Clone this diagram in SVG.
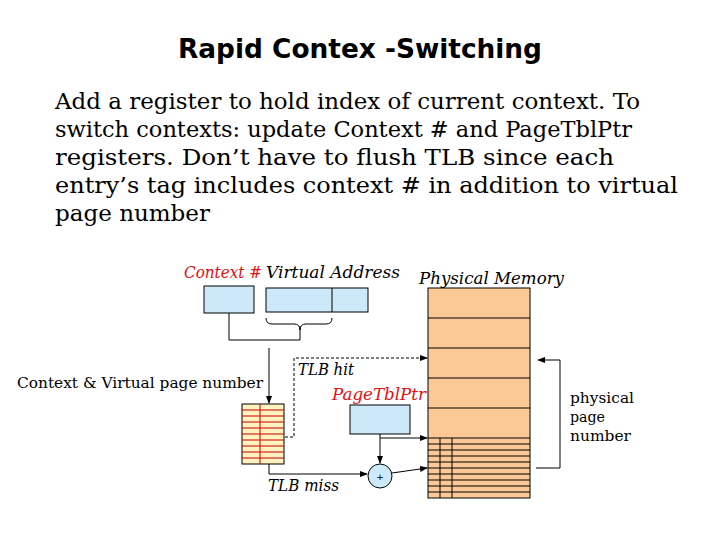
<svg xmlns="http://www.w3.org/2000/svg" width="720" height="540" viewBox="0 0 720 540">
<defs>
<marker id="ah" markerWidth="8" markerHeight="6" refX="7" refY="3" orient="auto" markerUnits="userSpaceOnUse"><path d="M0,0 L8,3 L0,6 z" fill="#000"/></marker>
<style>
.t{font-family:"DejaVu Serif","Liberation Serif",serif;fill:#000}
.l{font-family:"DejaVu Serif","Liberation Serif",serif;font-style:italic;font-size:17px}
.red{fill:#e01010}
.ln{stroke:#000;stroke-width:1;fill:none}
.blue{fill:#cde8f8;stroke:#000;stroke-width:1}
</style>
</defs>
<rect width="720" height="540" fill="#fff"/>
<text x="178" y="58" textLength="364" lengthAdjust="spacingAndGlyphs" font-family="DejaVu Sans,sans-serif" font-weight="bold" font-size="27">Rapid Contex -Switching</text>
<g class="t" font-size="22">
<text x="55" y="109" textLength="585" lengthAdjust="spacingAndGlyphs">Add a register to hold index of current context. To</text>
<text x="55" y="137" textLength="577" lengthAdjust="spacingAndGlyphs">switch contexts: update Context # and PageTblPtr</text>
<text x="55" y="165" textLength="559" lengthAdjust="spacingAndGlyphs">registers.  Don’t have to flush TLB since each</text>
<text x="55" y="193" textLength="623" lengthAdjust="spacingAndGlyphs">entry’s tag includes context # in addition to virtual</text>
<text x="55" y="221" textLength="155" lengthAdjust="spacingAndGlyphs">page number</text>
</g>
<g id="labels">
<text class="l red" x="184" y="278" textLength="78" lengthAdjust="spacingAndGlyphs">Context #</text>
<text class="l" x="266" y="278" textLength="134" lengthAdjust="spacingAndGlyphs">Virtual Address</text>
<text class="l" x="419" y="284" textLength="145" lengthAdjust="spacingAndGlyphs">Physical Memory</text>
<text class="l red" x="332" y="400" textLength="94" lengthAdjust="spacingAndGlyphs">PageTblPtr</text>
<text class="t" x="17" y="388" font-size="14" textLength="246" lengthAdjust="spacingAndGlyphs">Context &amp; Virtual page number</text>
<text class="l" x="298" y="375" font-size="14" textLength="56" lengthAdjust="spacingAndGlyphs">TLB hit</text>
<text class="l" x="268" y="491" font-size="14" textLength="71" lengthAdjust="spacingAndGlyphs">TLB miss</text>
<text class="t" x="570" y="403" font-size="15" textLength="64" lengthAdjust="spacingAndGlyphs">physical</text>
<text class="t" x="570" y="422" font-size="15" textLength="35" lengthAdjust="spacingAndGlyphs">page</text>
<text class="t" x="570" y="441" font-size="15" textLength="61" lengthAdjust="spacingAndGlyphs">number</text>
</g>
<g id="context"><rect class="blue" x="204" y="286" width="50" height="27"/></g>
<g id="va"><rect class="blue" x="266" y="288" width="102" height="24"/><line class="ln" x1="332" y1="288" x2="332" y2="312"/></g>
<g id="pagetblptr"><rect class="blue" x="350" y="405" width="60" height="29"/></g>
<g id="tlb">
<rect x="242" y="404" width="42" height="60" fill="#fff2c0" stroke="#000"/>
<path stroke="#c00000" stroke-width="1" d="M242,410H284M242,416H284M242,422H284M242,428H284M242,434H284M242,440H284M242,446H284M242,452H284M242,458H284M260,404V464"/>
</g>
<g id="pmem">
<rect x="428" y="288" width="102" height="210" fill="#fcc896" stroke="#000"/>
<path class="ln" d="M428,318H530M428,348H530M428,378H530M428,408H530M428,438H530M428,444H530M428,450H530M428,456H530M428,462H530M428,468H530M428,474H530M428,480H530M428,486H530M428,492H530M440,438V498M452,438V498"/>
</g>
<g id="adder"><circle cx="380" cy="476" r="12" fill="#cde8f8" stroke="#000"/><text x="380" y="480" text-anchor="middle" font-family="DejaVu Sans,sans-serif" font-size="9">+</text></g>
<g id="connectors">
<path class="ln" d="M229,313V340H300V326"/>
<path class="ln" d="M266,318q0,6 6,6h22q6,0 6,6q0,-6 6,-6h20q6,0 6,-6"/>
<path class="ln" d="M269,348V403" marker-end="url(#ah)"/>
<path class="ln" d="M285,437H294V358H427" stroke-dasharray="3,2" marker-end="url(#ah)"/>
<path class="ln" d="M269,464V474H367" marker-end="url(#ah)"/>
<path class="ln" d="M380,434V438H427" marker-end="url(#ah)"/>
<path class="ln" d="M380,438V463" marker-end="url(#ah)"/>
<path class="ln" d="M392,473L427,468" marker-end="url(#ah)"/>
<path class="ln" d="M545,360H560V468H536"/>
<path d="M537,360l8,-3v6z" fill="#000"/>
</g>
</svg>
